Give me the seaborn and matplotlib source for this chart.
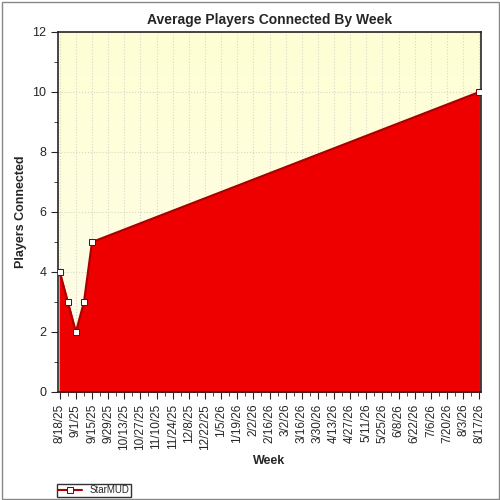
import matplotlib
matplotlib.use("Agg")
import matplotlib.pyplot as plt
import matplotlib.dates as mdates
import numpy as np
import pandas as pd
import seaborn as sns

# Data
weeks = ["2025-08-18", "2025-08-25", "2025-09-01", "2025-09-08", "2025-09-15", "2026-08-17"]
players = [4, 3, 2, 3, 5, 10]
series_name = "StarMUD"

df = pd.DataFrame({"week": pd.to_datetime(weeks), "players": players})

sns.set_style("ticks")
plt.rcParams["font.family"] = ["Liberation Sans", "DejaVu Sans"]

fig = plt.figure(figsize=(5, 5), dpi=100)
ax = fig.add_axes([0.116, 0.216, 0.846, 0.72])

# light yellow gradient background
grad = np.linspace(0, 1, 256).reshape(-1, 1)
cmap = matplotlib.colors.LinearSegmentedColormap.from_list("bg", ["#fdfdec", "#ffffd4"])
x0 = mdates.date2num(df["week"].iloc[0])
x1 = mdates.date2num(df["week"].iloc[-1])
ax.imshow(grad, aspect="auto", cmap=cmap, extent=[x0 - 2, x1 + 2, 0, 12], origin="lower", zorder=0)

ax.fill_between(df["week"], df["players"], color="#ee0000", zorder=2)
sns.lineplot(data=df, x="week", y="players", ax=ax, color="#aa0000", lw=1.5,
             marker="s", markersize=5, markerfacecolor="white", markeredgecolor="#880000",
             zorder=3, label=series_name)

ticks = pd.date_range(df["week"].iloc[0], df["week"].iloc[-1], freq="14D")
ax.set_xticks(ticks)
ax.set_xticklabels([f"{d.month}/{d.day}/{d.strftime('%y')}" for d in ticks], rotation=90, fontsize=8.5)
ax.set_xticks(pd.date_range(df["week"].iloc[0], df["week"].iloc[-1], freq="7D"), minor=True)
ax.set_xlim(x0 - 1.5, x1 + 1.5)
ax.set_ylim(0, 12)
ax.set_yticks(range(0, 13, 2))
ax.set_yticks(range(0, 13), minor=True)
ax.tick_params(axis="y", labelsize=9)
ax.tick_params(which="major", direction="out", length=5)
ax.tick_params(which="minor", direction="out", length=3)
ax.grid(True, which="major", linestyle=":", color="#d8d8c8", lw=0.8)
for s in ax.spines.values():
    s.set_linewidth(1.2)

ax.set_title("Average Players Connected By Week", fontsize=10, fontweight="bold")
ax.set_xlabel("Week", fontsize=9, fontweight="bold")
ax.set_ylabel("Players Connected", fontsize=9, fontweight="bold")

leg = ax.legend(loc="lower left", bbox_to_anchor=(-0.015, -0.305), fontsize=7, frameon=True,
                fancybox=False, edgecolor="black", handlelength=2.5, borderpad=0.15)
fig.patches.append(matplotlib.patches.Rectangle((0.003, 0.003), 0.994, 0.994, transform=fig.transFigure,
                                                fill=False, edgecolor="#888888", lw=1))

fig.savefig("out.png", dpi=100)
